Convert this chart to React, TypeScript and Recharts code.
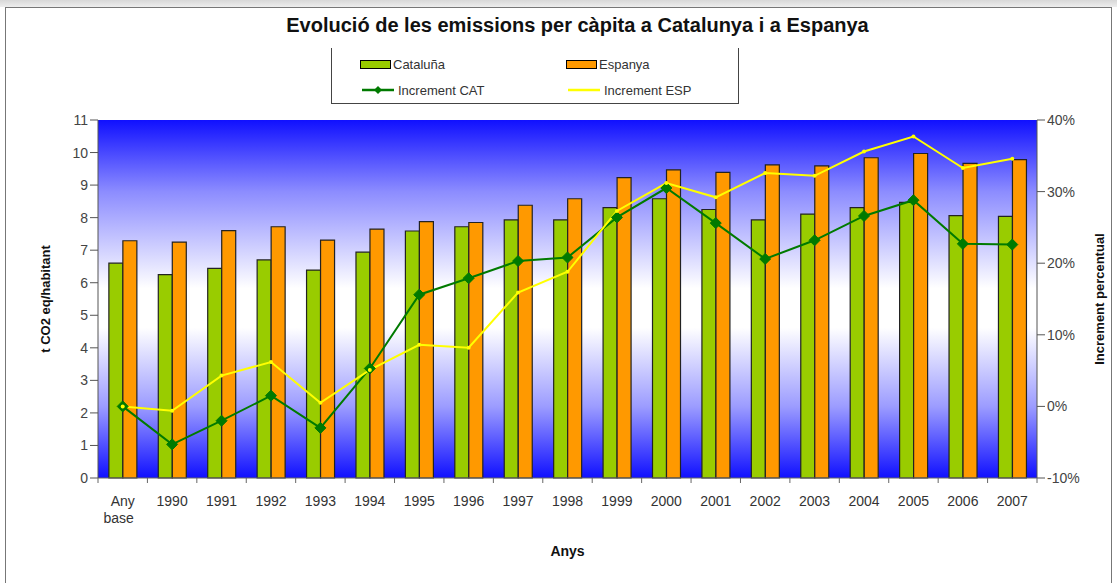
import React from 'react';
import { ComposedChart, Bar, Line, XAxis, YAxis, CartesianGrid } from 'recharts';

const categories = ['Any base', '1990', '1991', '1992', '1993', '1994', '1995', '1996', '1997', '1998', '1999', '2000', '2001', '2002', '2003', '2004', '2005', '2006', '2007'];
const cataluna = [6.6, 6.25, 6.44, 6.7, 6.39, 6.94, 7.59, 7.72, 7.93, 7.93, 8.31, 8.58, 8.25, 7.93, 8.11, 8.31, 8.47, 8.06, 8.04];
const espanya = [7.29, 7.25, 7.6, 7.72, 7.31, 7.65, 7.88, 7.85, 8.38, 8.58, 9.23, 9.47, 9.39, 9.62, 9.59, 9.84, 9.97, 9.67, 9.78];
const incrementCat = [0, -5.3, -2.0, 1.5, -3.0, 5.3, 15.6, 17.9, 20.3, 20.8, 26.4, 30.5, 25.6, 20.6, 23.2, 26.6, 28.8, 22.7, 22.6];
const incrementEsp = [0, -0.6, 4.3, 6.2, 0.5, 5.1, 8.6, 8.2, 15.9, 18.8, 27.3, 31.2, 29.2, 32.6, 32.2, 35.6, 37.7, 33.3, 34.6];
const leftTicks = [0, 1, 2, 3, 4, 5, 6, 7, 8, 9, 10, 11];
const rightTicks = [-10, 0, 10, 20, 30, 40];
const legendLabels = ['Cataluña', 'Espanya', 'Increment CAT', 'Increment ESP'];

const data = categories.map((c, i) => ({
  year: c,
  cat: cataluna[i],
  esp: espanya[i],
  incCat: incrementCat[i],
  incEsp: incrementEsp[i],
}));

const FONT = '"Liberation Sans", Arial, sans-serif';

const Diamond = (props: any) => {
  const { cx, cy } = props;
  if (cx == null || cy == null) return null;
  const s = 5.5;
  return <polygon points={`${cx},${cy - s} ${cx + s},${cy} ${cx},${cy + s} ${cx - s},${cy}`} fill="#007a00" stroke="#007a00" />;
};

const SmallDot = (props: any) => {
  const { cx, cy } = props;
  if (cx == null || cy == null) return null;
  return <circle cx={cx} cy={cy} r={2} fill="#ffff00" stroke="none" />;
};

const XTick = (props: any) => {
  const { x, y, payload, width } = props;
  const band = width / categories.length;
  const lines = String(payload.value).split(' ');
  return (
    <g>
      <line x1={x - band / 2} y1={y - 8} x2={x - band / 2} y2={y - 3} stroke="#666" />
      {payload.index === categories.length - 1 && (
        <line x1={x + band / 2} y1={y - 8} x2={x + band / 2} y2={y - 3} stroke="#666" />
      )}
      <text x={x} y={y + 20} textAnchor="middle" fill="#333" fontSize={14} fontFamily={FONT}>
        {lines.map((l, i) => (
          <tspan key={i} x={i === 0 ? x : x - 4} dy={i === 0 ? 0 : 17}>{l}</tspan>
        ))}
      </text>
    </g>
  );
};

const LegendBox = () => {
  const item = (swatch: React.ReactNode, label: string) => (
    <div style={{ display: 'flex', alignItems: 'center', height: 25 }}>
      {swatch}
      <span style={{ marginLeft: 2, fontSize: 13, color: '#333', fontFamily: FONT }}>{label}</span>
    </div>
  );
  const box = (color: string) => (
    <span style={{ display: 'inline-block', width: 31, height: 9, background: color, border: '1px solid #000', boxSizing: 'border-box' }} />
  );
  const lineSw = (color: string, marker: boolean) => (
    <svg width={36} height={10}>
      <line x1={2} y1={5} x2={34} y2={5} stroke={color} strokeWidth={2.5} />
      {marker && <polygon points="18,1 22,5 18,9 14,5" fill="#007a00" />}
    </svg>
  );
  return (
    <div style={{ position: 'absolute', left: 331, top: 48, width: 408, height: 56, border: '1px solid #444', borderTop: 'none', background: '#fff', boxSizing: 'border-box', display: 'grid', gridTemplateColumns: '206px 200px', paddingLeft: 28, paddingTop: 4 }}>
      {item(box('#99cc00'), legendLabels[0])}
      {item(box('#ff9900'), legendLabels[1])}
      {item(lineSw('#007a00', true), legendLabels[2])}
      {item(lineSw('#ffff00', false), legendLabels[3])}
    </div>
  );
};

export default function App() {
  return (
    <div style={{ position: 'absolute', left: 0, top: 0, width: 1117, height: 583, background: '#fff', fontFamily: FONT, overflow: 'hidden' }}>
      <div style={{ position: 'absolute', left: 0, top: 0, width: 1117, height: 7, background: 'linear-gradient(#d8d8d8, #eeeeee)' }} />
      <div style={{ position: 'absolute', left: 5, top: 7, width: 1107, height: 580, border: '1px solid #777', boxSizing: 'border-box' }} />
      <div style={{ position: 'absolute', left: 38, top: 14, width: 1079, textAlign: 'center', fontWeight: 'bold', fontSize: 20, color: '#111', fontFamily: FONT }}>
        Evolució de les emissions per càpita a Catalunya i a Espanya
      </div>
      <ComposedChart
        width={1117}
        height={583}
        data={data}
        margin={{ top: 120, right: 10, bottom: 65, left: 38 }}
        barGap={0}
        barCategoryGap="22%"
        style={{ position: 'absolute', left: 0, top: 0 }}
      >
        <defs>
          <linearGradient id="bgGrad" x1="0" y1="0" x2="0" y2="1">
            <stop offset="0" stopColor="#1010ff" />
            <stop offset="0.2" stopColor="#8c8cff" />
            <stop offset="0.47" stopColor="#ffffff" />
            <stop offset="0.58" stopColor="#ffffff" />
            <stop offset="0.8" stopColor="#9c9cff" />
            <stop offset="1" stopColor="#1010ff" />
          </linearGradient>
        </defs>
        <CartesianGrid horizontal={false} vertical={false} fill="url(#bgGrad)" stroke="#444" />
        <XAxis
          dataKey="year"
          height={40}
          interval={0}
          tickLine={false}
          axisLine={{ stroke: '#666' }}
          tick={<XTick />}
          label={{ value: 'Anys', position: 'insideBottom', offset: -38, fontWeight: 'bold', fontSize: 14, fill: '#111', fontFamily: FONT }}
        />
        <YAxis
          yAxisId="left"
          domain={[0, 11]}
          ticks={leftTicks}
          width={60}
          interval={0}
          axisLine={{ stroke: '#555' }}
          tickLine={{ stroke: '#555' }}
          tickSize={8}
          tick={{ fontSize: 14, fill: '#444', fontFamily: FONT }}
          label={{ value: 't CO2 eq/habitant', angle: -90, position: 'insideLeft', offset: 7, style: { textAnchor: 'middle', fontWeight: 'bold', fontSize: 13, fill: '#111', fontFamily: FONT } }}
        />
        <YAxis
          yAxisId="right"
          orientation="right"
          domain={[-10, 40]}
          ticks={rightTicks}
          width={70}
          interval={0}
          axisLine={{ stroke: '#555' }}
          tickLine={{ stroke: '#555' }}
          tickSize={8}
          tickFormatter={(v: number) => `${v}%`}
          tick={{ fontSize: 14, fill: '#444', fontFamily: FONT }}
          label={{ value: 'Increment percentual', angle: -90, position: 'insideRight', offset: 8, style: { textAnchor: 'middle', fontWeight: 'bold', fontSize: 13, fill: '#111', fontFamily: FONT } }}
        />
        <Bar yAxisId="left" dataKey="cat" name="Cataluña" fill="#99cc00" stroke="#222" strokeWidth={1.2} isAnimationActive={false} />
        <Bar yAxisId="left" dataKey="esp" name="Espanya" fill="#ff9900" stroke="#222" strokeWidth={1.2} isAnimationActive={false} />
        <Line yAxisId="right" dataKey="incCat" name="Increment CAT" stroke="#007a00" strokeWidth={2} dot={<Diamond />} activeDot={false} isAnimationActive={false} />
        <Line yAxisId="right" dataKey="incEsp" name="Increment ESP" stroke="#ffff00" strokeWidth={2} dot={<SmallDot />} activeDot={false} isAnimationActive={false} />
      </ComposedChart>
      <LegendBox />
    </div>
  );
}
